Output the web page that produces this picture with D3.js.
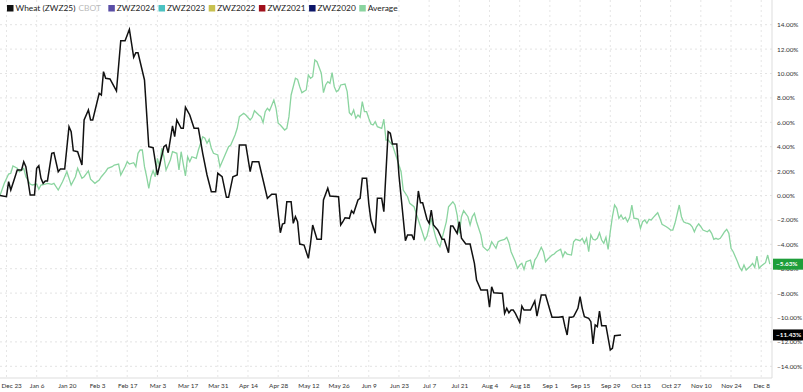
<!DOCTYPE html>
<html>
<head>
<meta charset="utf-8">
<script src="https://cdn.jsdelivr.net/npm/d3@7"></script>
<style>
  body { margin: 0; background: #fff; }
  svg { display: block; font-family: Lato, "Open Sans", sans-serif; }
</style>
</head>
<body>
<div id="chartHolder"></div>
<script>
// days since season start (Dec 20) and % change
const wheatDays = [
  0, 3, 4, 5, 7, 8, 10, 11, 12, 14,
  16, 17, 18, 19, 20, 21, 22, 24, 25, 27,
  28, 30, 32, 33, 34, 36, 38, 39, 41, 42,
  43, 46, 47, 48, 49, 51, 54, 56, 58, 60,
  62, 63, 64, 67, 69, 71, 73, 76, 77, 78,
  80, 81, 82, 84, 85, 86, 88, 90, 92, 94,
  96, 98, 100, 101, 103, 105, 106, 108, 110, 111,
  114, 116, 117, 120, 122, 124, 126, 128, 130, 131,
  132, 133, 135, 136, 137, 138, 139, 141, 143, 144,
  145, 147, 149, 150, 152, 153, 157, 158, 159, 160,
  162, 163, 164, 166, 167, 168, 170, 171, 172, 174,
  175, 177, 178, 180, 181, 182, 184, 185, 188, 189,
  191, 192, 194, 195, 196, 198, 199, 200, 201, 203,
  205, 206, 208, 209, 210, 212, 213, 214, 216, 218,
  220, 221, 223, 226, 227, 228, 229, 232, 233, 234,
  235, 236, 237, 238, 239, 241, 242, 243, 246, 248,
  249, 251, 253, 255, 256, 259, 261, 262, 263, 264,
  265, 266, 268, 269, 270, 271, 273, 274, 275, 276,
  277, 278, 279, 281, 283, 284, 285, 288
];
const wheatPct = [
  0, -0.10, 1.13, 0.45, 1.54, 2.09, 2.09, 2.77, 2.36, 0.04,
  0.04, 2.23, 2.44, 1.41, 1.00, 1.19, 1.19, 3.46, 3.51, 1.95,
  2.17, 2.17, 5.64, 5.23, 3.67, 3.59, 2.50, 6.19, 7.01, 6.19,
  6.19, 8.38, 8.24, 10.15, 9.61, 9.55, 8.57, 12.69, 12.69, 13.62,
  11.33, 11.70, 11.70, 9.47, 4.00, 3.92, 1.68, 4.00, 4.14, 3.51,
  5.70, 4.82, 6.19, 5.51, 5.51, 7.23, 6.60, 5.51, 5.51, 3.46,
  1.68, 0.31, 0.31, 1.82, 1.54, -0.15, -0.15, 1.54, 1.68, 4.14,
  4.14, 1.95, 2.77, 2.77, 1.27, -0.23, 0.10, 0.10, -3.05, -2.34,
  -2.28, -0.51, -0.51, -2.28, -1.74, -2.15, -3.98, -4.06, -5.15, -3.92,
  -2.42, -3.59, -3.59, -0.37, 0.59, -0.04, -0.10, -2.42, -2.15, -1.82,
  -1.87, -1.25, -1.46, -0.37, -0.23, 1.41, 1.41, -0.64, -2.01, -3.10,
  -0.23, -0.23, -1.33, 5.23, 5.10, 4.22, 4.22, 1.68, -3.70, -3.24,
  -3.24, -3.65, 0.37, -0.59, -0.59, -1.95, -2.28, -1.19, -2.42, -2.83,
  -3.59, -3.59, -4.69, -2.50, -2.50, -3.10, -2.15, -3.51, -3.98, -3.98,
  -5.56, -6.93, -7.75, -7.75, -9.16, -7.48, -7.97, -8.02, -8.02, -9.66,
  -9.25, -9.61, -9.39, -9.39, -9.66, -10.39, -9.06, -9.39, -9.39, -8.65,
  -9.88, -8.16, -8.16, -9.39, -9.98, -9.98, -9.93, -10.75, -11.43, -9.98,
  -9.98, -9.93, -9.25, -8.30, -9.25, -9.93, -10.07, -10.34, -12.17, -10.61,
  -10.75, -9.47, -10.67, -10.67, -12.66, -12.52, -11.49, -11.43
];
const avgDays = [
  0, 2, 4, 5, 6, 8, 9, 11, 12, 14,
  15, 17, 18, 19, 21, 22, 24, 25, 27, 29,
  30, 31, 32, 33, 35, 36, 38, 39, 41, 42,
  44, 46, 47, 49, 50, 52, 53, 55, 56, 58,
  59, 60, 62, 63, 64, 65, 66, 67, 68, 69,
  70, 71, 72, 73, 74, 75, 76, 77, 79, 80,
  82, 83, 84, 85, 86, 87, 88, 89, 91, 92,
  94, 95, 96, 97, 98, 99, 101, 102, 104, 106,
  107, 109, 110, 111, 113, 114, 116, 117, 118, 120,
  121, 122, 123, 124, 125, 127, 128, 129, 130, 132,
  133, 134, 135, 137, 138, 139, 140, 142, 143, 144,
  145, 146, 147, 149, 150, 151, 152, 153, 154, 155,
  156, 157, 158, 160, 161, 162, 163, 164, 165, 166,
  167, 168, 169, 170, 171, 172, 173, 174, 175, 177,
  178, 179, 180, 182, 184, 186, 187, 189, 190, 192,
  193, 194, 196, 197, 198, 200, 201, 202, 203, 204,
  205, 207, 208, 210, 211, 212, 213, 214, 215, 217,
  218, 219, 220, 221, 223, 224, 226, 227, 228, 230,
  231, 232, 234, 235, 236, 237, 239, 240, 241, 242,
  243, 244, 246, 247, 248, 249, 251, 252, 253, 254,
  256, 257, 258, 260, 261, 262, 263, 265, 266, 267,
  269, 270, 271, 272, 273, 274, 275, 276, 277, 278,
  279, 280, 281, 282, 283, 284, 285, 286, 287, 288,
  289, 290, 291, 292, 293, 294, 295, 296, 297, 298,
  299, 300, 301, 302, 303, 304, 305, 306, 307, 309,
  310, 311, 312, 313, 315, 316, 317, 318, 319, 320,
  321, 322, 323, 324, 325, 326, 328, 329, 330, 331,
  332, 333, 334, 335, 336, 337, 338, 339, 340, 341,
  342, 343, 344, 345, 346, 348, 349, 350, 351, 352,
  353, 355, 356, 357
];
const avgPct = [
  0, 1.00, 1.76, 1.82, 2.42, 2.23, 1.95, 2.23, 1.54, 0.94,
  0.86, 0.94, 0.51, 0.86, 0.94, 1.00, 0.92, 1.00, 0.45, 1.13,
  1.54, 1.95, 1.41, 0.86, 1.54, 2.23, 1.41, 1.54, 2.01, 1.33,
  1.00, 1.27, 1.54, 1.95, 2.23, 2.36, 2.50, 2.58, 1.68, 2.36,
  2.77, 2.58, 2.69, 2.36, 3.46, 3.73, 3.73, 2.36, 1.54, 0.59,
  1.54, 2.03, 1.54, 3.05, 2.36, 3.87, 3.18, 2.09, 2.91, 3.59,
  3.46, 2.09, 3.59, 2.58, 1.60, 3.18, 2.77, 3.18, 3.05, 3.73,
  4.82, 4.69, 4.28, 4.61, 3.87, 3.46, 3.32, 2.36, 3.18, 4.00,
  4.14, 4.96, 5.51, 6.46, 6.74, 6.60, 6.19, 6.41, 6.95, 6.60,
  6.46, 5.97, 6.87, 7.15, 6.95, 7.83, 7.15, 5.92, 5.78, 5.37,
  5.51, 6.46, 8.24, 9.61, 9.52, 8.92, 8.43, 8.65, 9.88, 9.61,
  9.74, 11.11, 10.97, 10.02, 8.43, 9.06, 9.33, 9.20, 10.07, 8.92,
  8.51, 8.65, 9.06, 9.14, 8.51, 6.79, 6.60, 7.01, 6.33, 6.60,
  6.41, 7.69, 6.87, 6.87, 6.33, 5.86, 5.78, 6.05, 5.64, 5.51,
  6.25, 4.55, 4.55, 4.14, 3.05, 1.95, 0.45, -0.10, -0.64, -0.92,
  -1.46, -2.01, -3.10, -3.65, -3.32, -1.87, -2.69, -3.38, -3.92, -4.20,
  -3.51, -2.15, -0.92, -0.51, -0.78, -1.60, -3.10, -1.74, -1.25, -1.74,
  -2.42, -1.74, -1.46, -2.15, -3.24, -4.20, -4.52, -4.33, -3.79, -4.33,
  -3.79, -3.70, -3.59, -3.43, -3.87, -4.61, -5.43, -5.97, -5.70, -5.56,
  -6.05, -5.43, -5.29, -6.05, -5.29, -5.02, -4.25, -4.61, -5.43, -5.23,
  -4.88, -4.80, -4.61, -4.41, -5.02, -4.61, -4.80, -4.88, -3.79, -3.59,
  -3.70, -3.51, -3.92, -3.51, -4.61, -3.24, -3.59, -3.65, -3.51, -3.05,
  -3.65, -3.92, -3.43, -4.41, -2.97, -1.74, -0.78, -1.05, -1.87, -1.60,
  -1.95, -1.79, -2.15, -1.79, -0.78, -1.87, -1.87, -1.95, -2.69, -2.15,
  -2.01, -2.28, -1.95, -2.01, -1.79, -1.60, -1.41, -1.87, -2.36, -2.56,
  -2.69, -2.83, -2.83, -2.28, -0.78, -1.74, -2.15, -2.24, -2.28, -2.36,
  -2.56, -2.97, -2.56, -2.33, -2.56, -2.83, -2.97, -2.83, -3.10, -3.59,
  -3.51, -3.59, -3.51, -3.24, -2.97, -2.77, -3.10, -4.33, -4.61, -5.02,
  -5.43, -5.89, -6.16, -5.70, -6.11, -5.78, -5.56, -5.89, -4.96, -5.97,
  -5.78, -5.51, -4.88, -5.63
];

const legendNames = ["Wheat (ZWZ25)", "ZWZ2024", "ZWZ2023", "ZWZ2022", "ZWZ2021", "ZWZ2020", "Average"];
const legendColors = ["#111111", "#5a4ea6", "#4cc2c2", "#c8c150", "#a0101c", "#0c1668", "#8ad49f"];
const yTicks = [-14, -12, -10, -8, -6, -4, -2, 0, 2, 4, 6, 8, 10, 12, 14];

const w = 803, h = 392;
const plotRight = 772, plotBottom = 378;
const seasonStart = new Date(2024, 11, 20);

const svg = d3.select("#chartHolder").append("svg")
  .attr("width", w).attr("height", h);

const x = d3.scaleTime()
  .domain([seasonStart, new Date(2025, 11, 13)])
  .range([0, plotRight]);
const y = d3.scaleLinear().domain([-14, 14]).range([366.3, 24.7]);

const xTickDates = d3.timeDay.range(new Date(2024, 11, 23), new Date(2025, 11, 13), 14);
const fmtDate = d3.timeFormat("%b %-d");

// grid
svg.append("g").selectAll("line").data(yTicks).enter().append("line")
  .attr("x1", 0).attr("x2", plotRight)
  .attr("y1", d => y(d)).attr("y2", d => y(d))
  .attr("stroke", "#e3e3e3").attr("stroke-dasharray", "2,3");
svg.append("g").selectAll("line").data(xTickDates).enter().append("line")
  .attr("x1", d => x(d)).attr("x2", d => x(d))
  .attr("y1", 0).attr("y2", plotBottom)
  .attr("stroke", "#e6e6e6").attr("stroke-dasharray", "2,3");

// frame
svg.append("line").attr("x1", 0).attr("x2", plotRight).attr("y1", plotBottom).attr("y2", plotBottom)
  .attr("stroke", "#ddd");
svg.append("line").attr("x1", plotRight).attr("x2", plotRight).attr("y1", 0).attr("y2", plotBottom)
  .attr("stroke", "#ddd");

// x axis
const xAxis = d3.axisBottom(x).tickValues(xTickDates).tickFormat(fmtDate).tickSize(0).tickPadding(5);
const gx = svg.append("g").attr("transform", "translate(0," + plotBottom + ")").call(xAxis);
gx.select(".domain").remove();
gx.selectAll("text").attr("font-size", 6.4).attr("fill", "#333").attr("font-family", "Lato, sans-serif");
// first label would fall off the left edge: pin it to the edge
gx.selectAll(".tick").filter((d, i) => i === 0).select("text")
  .attr("text-anchor", "start").attr("x", 1 - x(xTickDates[0]));

// y axis on the right
const yAxis = d3.axisRight(y).tickValues(yTicks).tickFormat(d => d3.format(".2f")(d) + "%").tickSize(0).tickPadding(5);
const gy = svg.append("g").attr("transform", "translate(" + plotRight + ",0)").call(yAxis);
gy.select(".domain").remove();
gy.selectAll("text").attr("font-size", 6.4).attr("fill", "#333").attr("font-family", "Lato, sans-serif");

// lines
const line = d3.line()
  .x(d => x(d3.timeDay.offset(seasonStart, d[0])))
  .y(d => y(d[1]));
const avgData = avgDays.map((d, i) => [d, avgPct[i]]);
const wheatData = wheatDays.map((d, i) => [d, wheatPct[i]]);

svg.append("path").datum(avgData).attr("d", line)
  .attr("fill", "none").attr("stroke", legendColors[6]).attr("stroke-width", 1.3);
svg.append("path").datum(wheatData).attr("d", line)
  .attr("fill", "none").attr("stroke", "#111").attr("stroke-width", 1.5);

// last value flags
const flags = [
  { v: avgPct[avgPct.length - 1], color: "#1e9e3a" },
  { v: wheatPct[wheatPct.length - 1], color: "#000" }
];
flags.forEach(f => {
  svg.append("rect").attr("x", plotRight + 1).attr("y", y(f.v) - 5.5).attr("width", 30).attr("height", 11)
    .attr("fill", f.color);
  svg.append("text").attr("x", plotRight + 4).attr("y", y(f.v)).attr("dy", "0.35em")
    .attr("font-size", 6.4).attr("font-weight", "bold").attr("fill", "#fff")
    .text(d3.format(".2f")(f.v) + "%");
});

// legend, laid out from measured text widths
const legend = svg.append("g");
let lx = 7;
legendNames.forEach((name, i) => {
  legend.append("rect").attr("x", lx).attr("y", 5).attr("width", 6.5).attr("height", 6.5)
    .attr("fill", legendColors[i]);
  const t = legend.append("text").attr("x", lx + 8.5).attr("y", 8.5).attr("dy", "0.35em")
    .attr("font-size", 8.4).attr("fill", "#222").text(name);
  lx += 8.5 + t.node().getComputedTextLength();
  if (i === 0) {
    const c = legend.append("text").attr("x", lx + 3).attr("y", 8.5).attr("dy", "0.35em")
      .attr("font-size", 8.4).attr("fill", "#bbb").text("CBOT");
    lx += 3 + c.node().getComputedTextLength() + 4;
  }
  lx += 3.5;
});
</script>
</body>
</html>
